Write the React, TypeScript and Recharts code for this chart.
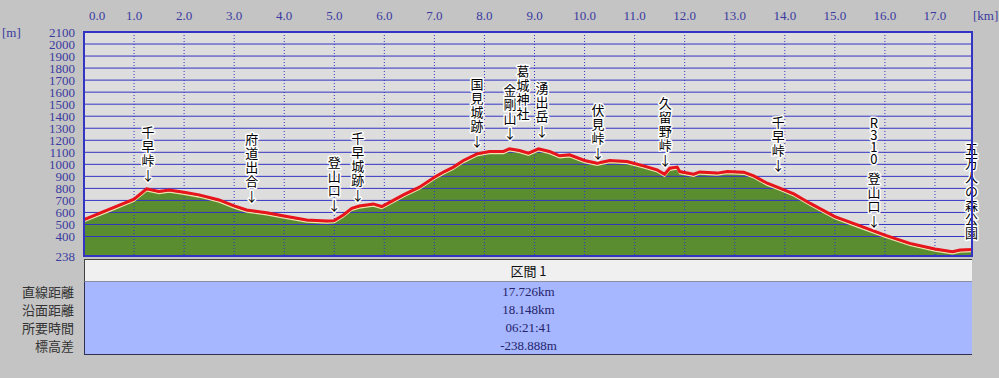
import React from "react";
import {
  ComposedChart,
  Area,
  Line,
  XAxis,
  YAxis,
  ReferenceLine,
  ReferenceDot,
} from "recharts";

// profile (km along route, elevation m)
const KM = [
  0, 0.5, 1.0, 1.25, 1.5, 1.7, 2.0, 2.3, 2.7, 3.0, 3.25, 3.65, 4.0, 4.45,
  4.85, 5.0, 5.18, 5.35, 5.5, 5.78, 5.95, 6.05, 6.38, 6.7, 7.0, 7.2, 7.38,
  7.58, 7.85, 8.1, 8.38, 8.5, 8.7, 8.88, 9.08, 9.3, 9.5, 9.7, 10.0, 10.25,
  10.5, 10.85, 11.18, 11.45, 11.6, 11.7, 11.85, 11.9, 12.18, 12.3, 12.65,
  12.85, 13.18, 13.38, 13.65, 13.9, 14.18, 14.5, 15.0, 15.45, 16.0, 16.5,
  17.0, 17.35, 17.5, 17.74,
];
const ELEV = [
  540, 625, 710, 796, 774, 787, 768, 746, 704, 654, 621, 598, 571, 537,
  529, 532, 579, 635, 654, 671, 649, 671, 746, 810, 893, 940, 977,
  1032, 1087, 1107, 1107, 1129, 1115, 1093, 1129, 1107, 1071, 1079, 1032, 1010,
  1032, 1023, 987, 954, 918, 968, 977, 940, 918, 937, 927,
  940, 935, 904, 843, 802, 754, 677, 565, 496, 412, 343,
  296, 273, 288, 293,
];

const X_TICKS = [0, 1, 2, 3, 4, 5, 6, 7, 8, 9, 10, 11, 12, 13, 14, 15, 16, 17];
const Y_TICKS = [
  238, 400, 500, 600, 700, 800, 900, 1000, 1100, 1200, 1300, 1400, 1500,
  1600, 1700, 1800, 1900, 2000, 2100,
];

// place names, written top to bottom; tip = elevation where the text ends
const LABEL_TEXT = [
  "千早峠↓", "府道出合↓", "登山口↓", "千早城跡↓", "国見城跡↓", "金剛山↓",
  "葛城神社", "湧出岳↓", "伏見峠↓", "久留野峠↓", "千早峠↓", "R310 登山口↓",
  "五万人の森公園",
];
const LABEL_KM = [
  1.28, 3.35, 5.0, 5.47, 7.85, 8.51, 8.77, 9.15, 10.27, 11.61, 13.87, 15.78,
  17.73,
];
const LABEL_TIP = [
  854, 679, 604, 687, 1137, 1204, 1379, 1221, 1037, 979, 937, 479, 387,
];

const ROW_NAMES = ["直線距離", "沿面距離", "所要時間", "標高差"];
const ROW_VALUES = ["17.726km", "18.148km", "06:21:41", "-238.888m"];
const SECTION = "区間 1";

const BG = "#c4c4c4";
const PLOT_BG = "#dddddd";
const BLUE = "#3434c4";
const TICK_BLUE = "#3a3aa0";
const GREEN = "#5a8c30";
const RED = "#e8141c";
const SERIF = "'Liberation Serif', 'DejaVu Serif', serif";
const GOTHIC = "'Noto Sans CJK JP', sans-serif";

const data = KM.map((km, i) => ({ km, elev: ELEV[i] }));

function glyphHeight(ch: string) {
  if (ch === "↓") return 16;
  if (ch === " ") return 6;
  if (ch.charCodeAt(0) < 128) return 12;
  return 14;
}

function VerticalLabel({ cx, cy, text }: { cx: number; cy: number; text: string }) {
  const chars = Array.from(text);
  const centers: number[] = [];
  let c = cy - glyphHeight(chars[chars.length - 1]) / 2 + 1;
  for (let i = chars.length - 1; i >= 0; i--) {
    centers[i] = c;
    if (i > 0) c -= (glyphHeight(chars[i]) + glyphHeight(chars[i - 1])) / 2;
  }
  return (
    <g>
      {chars.map((ch, i) =>
        ch === " " ? null : (
          <text
            key={i}
            x={cx}
            y={centers[i]}
            textAnchor="middle"
            dominantBaseline="central"
            fontFamily={GOTHIC}
            fontSize={13}
            fill="#000"
            stroke="#fff"
            strokeWidth={3}
            strokeLinejoin="round"
            paintOrder="stroke"
          >
            {ch}
          </text>
        )
      )}
    </g>
  );
}

function KmTick(props: any) {
  const { x, y, payload } = props;
  const dx = payload.value === 0 ? 13 : 0;
  return (
    <text
      x={x + dx}
      y={y - 1}
      textAnchor="middle"
      fill={TICK_BLUE}
      fontFamily={SERIF}
      fontSize={13}
    >
      {payload.value.toFixed(1)}
    </text>
  );
}

export default function App() {
  return (
    <div
      style={{
        position: "absolute",
        left: 0,
        top: 0,
        width: 999,
        height: 378,
        background: BG,
        overflow: "hidden",
      }}
    >
      <div
        style={{
          position: "absolute",
          left: 84,
          top: 32,
          width: 888,
          height: 224,
          background: PLOT_BG,
        }}
      />
      <div style={{ position: "absolute", left: 0, top: 0 }}>
        <ComposedChart
          width={999}
          height={266}
          data={data}
          margin={{ top: 0, right: 27, bottom: 10, left: 0 }}
        >
          <XAxis
            type="number"
            dataKey="km"
            orientation="top"
            domain={[0, 17.74]}
            ticks={X_TICKS}
            interval={0}
            height={32}
            axisLine={false}
            tickLine={false}
            tickMargin={5}
            tick={<KmTick />}
          />
          <YAxis
            type="number"
            domain={[238, 2100]}
            ticks={Y_TICKS}
            interval={0}
            width={84}
            axisLine={false}
            tickLine={false}
            tickMargin={3}
            allowDataOverflow
            tick={{ fill: TICK_BLUE, fontSize: 13, fontFamily: SERIF }}
          />
          <Area
            type="linear"
            dataKey="elev"
            fill={GREEN}
            fillOpacity={1}
            stroke="none"
            baseValue="dataMin"
            isAnimationActive={false}
          />
          {Y_TICKS.map((v) => (
            <ReferenceLine key={`h-${v}`} y={v} stroke={BLUE} strokeWidth={1} />
          ))}
          {X_TICKS.slice(1).map((v) => (
            <ReferenceLine
              key={`v-${v}`}
              x={v}
              stroke={BLUE}
              strokeWidth={1}
              strokeDasharray="1 2"
            />
          ))}
          <Line
            type="linear"
            dataKey="elev"
            stroke="#efe2ae"
            strokeWidth={1.5}
            dot={false}
            isAnimationActive={false}
            transform="translate(0,2)"
          />
          <Line
            type="linear"
            dataKey="elev"
            stroke={RED}
            strokeWidth={3}
            dot={false}
            isAnimationActive={false}
          />
          {LABEL_TEXT.map((t, i) => (
            <ReferenceDot
              key={`l-${i}`}
              x={LABEL_KM[i]}
              y={LABEL_TIP[i]}
              r={0}
              ifOverflow="visible"
              shape={(p: any) => <VerticalLabel cx={p.cx} cy={p.cy} text={t} />}
            />
          ))}
        </ComposedChart>
      </div>
      <div
        style={{
          position: "absolute",
          left: 83,
          top: 31,
          width: 890,
          height: 226,
          boxSizing: "border-box",
          border: `2px solid ${BLUE}`,
          pointerEvents: "none",
        }}
      />
      <div
        style={{
          position: "absolute",
          left: 2,
          top: 25,
          fontFamily: SERIF,
          fontSize: 13,
          color: TICK_BLUE,
        }}
      >
        [m]
      </div>
      <div
        style={{
          position: "absolute",
          left: 973,
          top: 8,
          fontFamily: SERIF,
          fontSize: 13,
          color: TICK_BLUE,
        }}
      >
        [km]
      </div>

      {/* summary table */}
      <div
        style={{
          position: "absolute",
          left: 84,
          top: 259,
          width: 888,
          height: 23,
          boxSizing: "border-box",
          background: "#f0f0f0",
          borderTop: "1px solid #404040",
          borderLeft: "1px solid #404040",
          borderBottom: "1px solid #8a8ea0",
          textAlign: "center",
          fontFamily: GOTHIC,
          fontSize: 13,
          lineHeight: "21px",
          color: "#111",
        }}
      >
        {SECTION}
      </div>
      <div
        style={{
          position: "absolute",
          left: 84,
          top: 282,
          width: 888,
          height: 73,
          boxSizing: "border-box",
          background: "#a6b6ff",
          borderLeft: "1px solid #303050",
          borderBottom: "1px solid #303050",
          paddingTop: 1,
        }}
      >
        {ROW_VALUES.map((v) => (
          <div
            key={v}
            style={{
              height: 18,
              lineHeight: "18px",
              textAlign: "center",
              fontFamily: SERIF,
              fontSize: 13,
              color: "#24246a",
            }}
          >
            {v}
          </div>
        ))}
      </div>
      <div
        style={{
          position: "absolute",
          left: 0,
          top: 283,
          width: 74,
        }}
      >
        {ROW_NAMES.map((n) => (
          <div
            key={n}
            style={{
              height: 18,
              lineHeight: "18px",
              textAlign: "right",
              fontFamily: GOTHIC,
              fontSize: 13,
              color: "#333",
            }}
          >
            {n}
          </div>
        ))}
      </div>
    </div>
  );
}
